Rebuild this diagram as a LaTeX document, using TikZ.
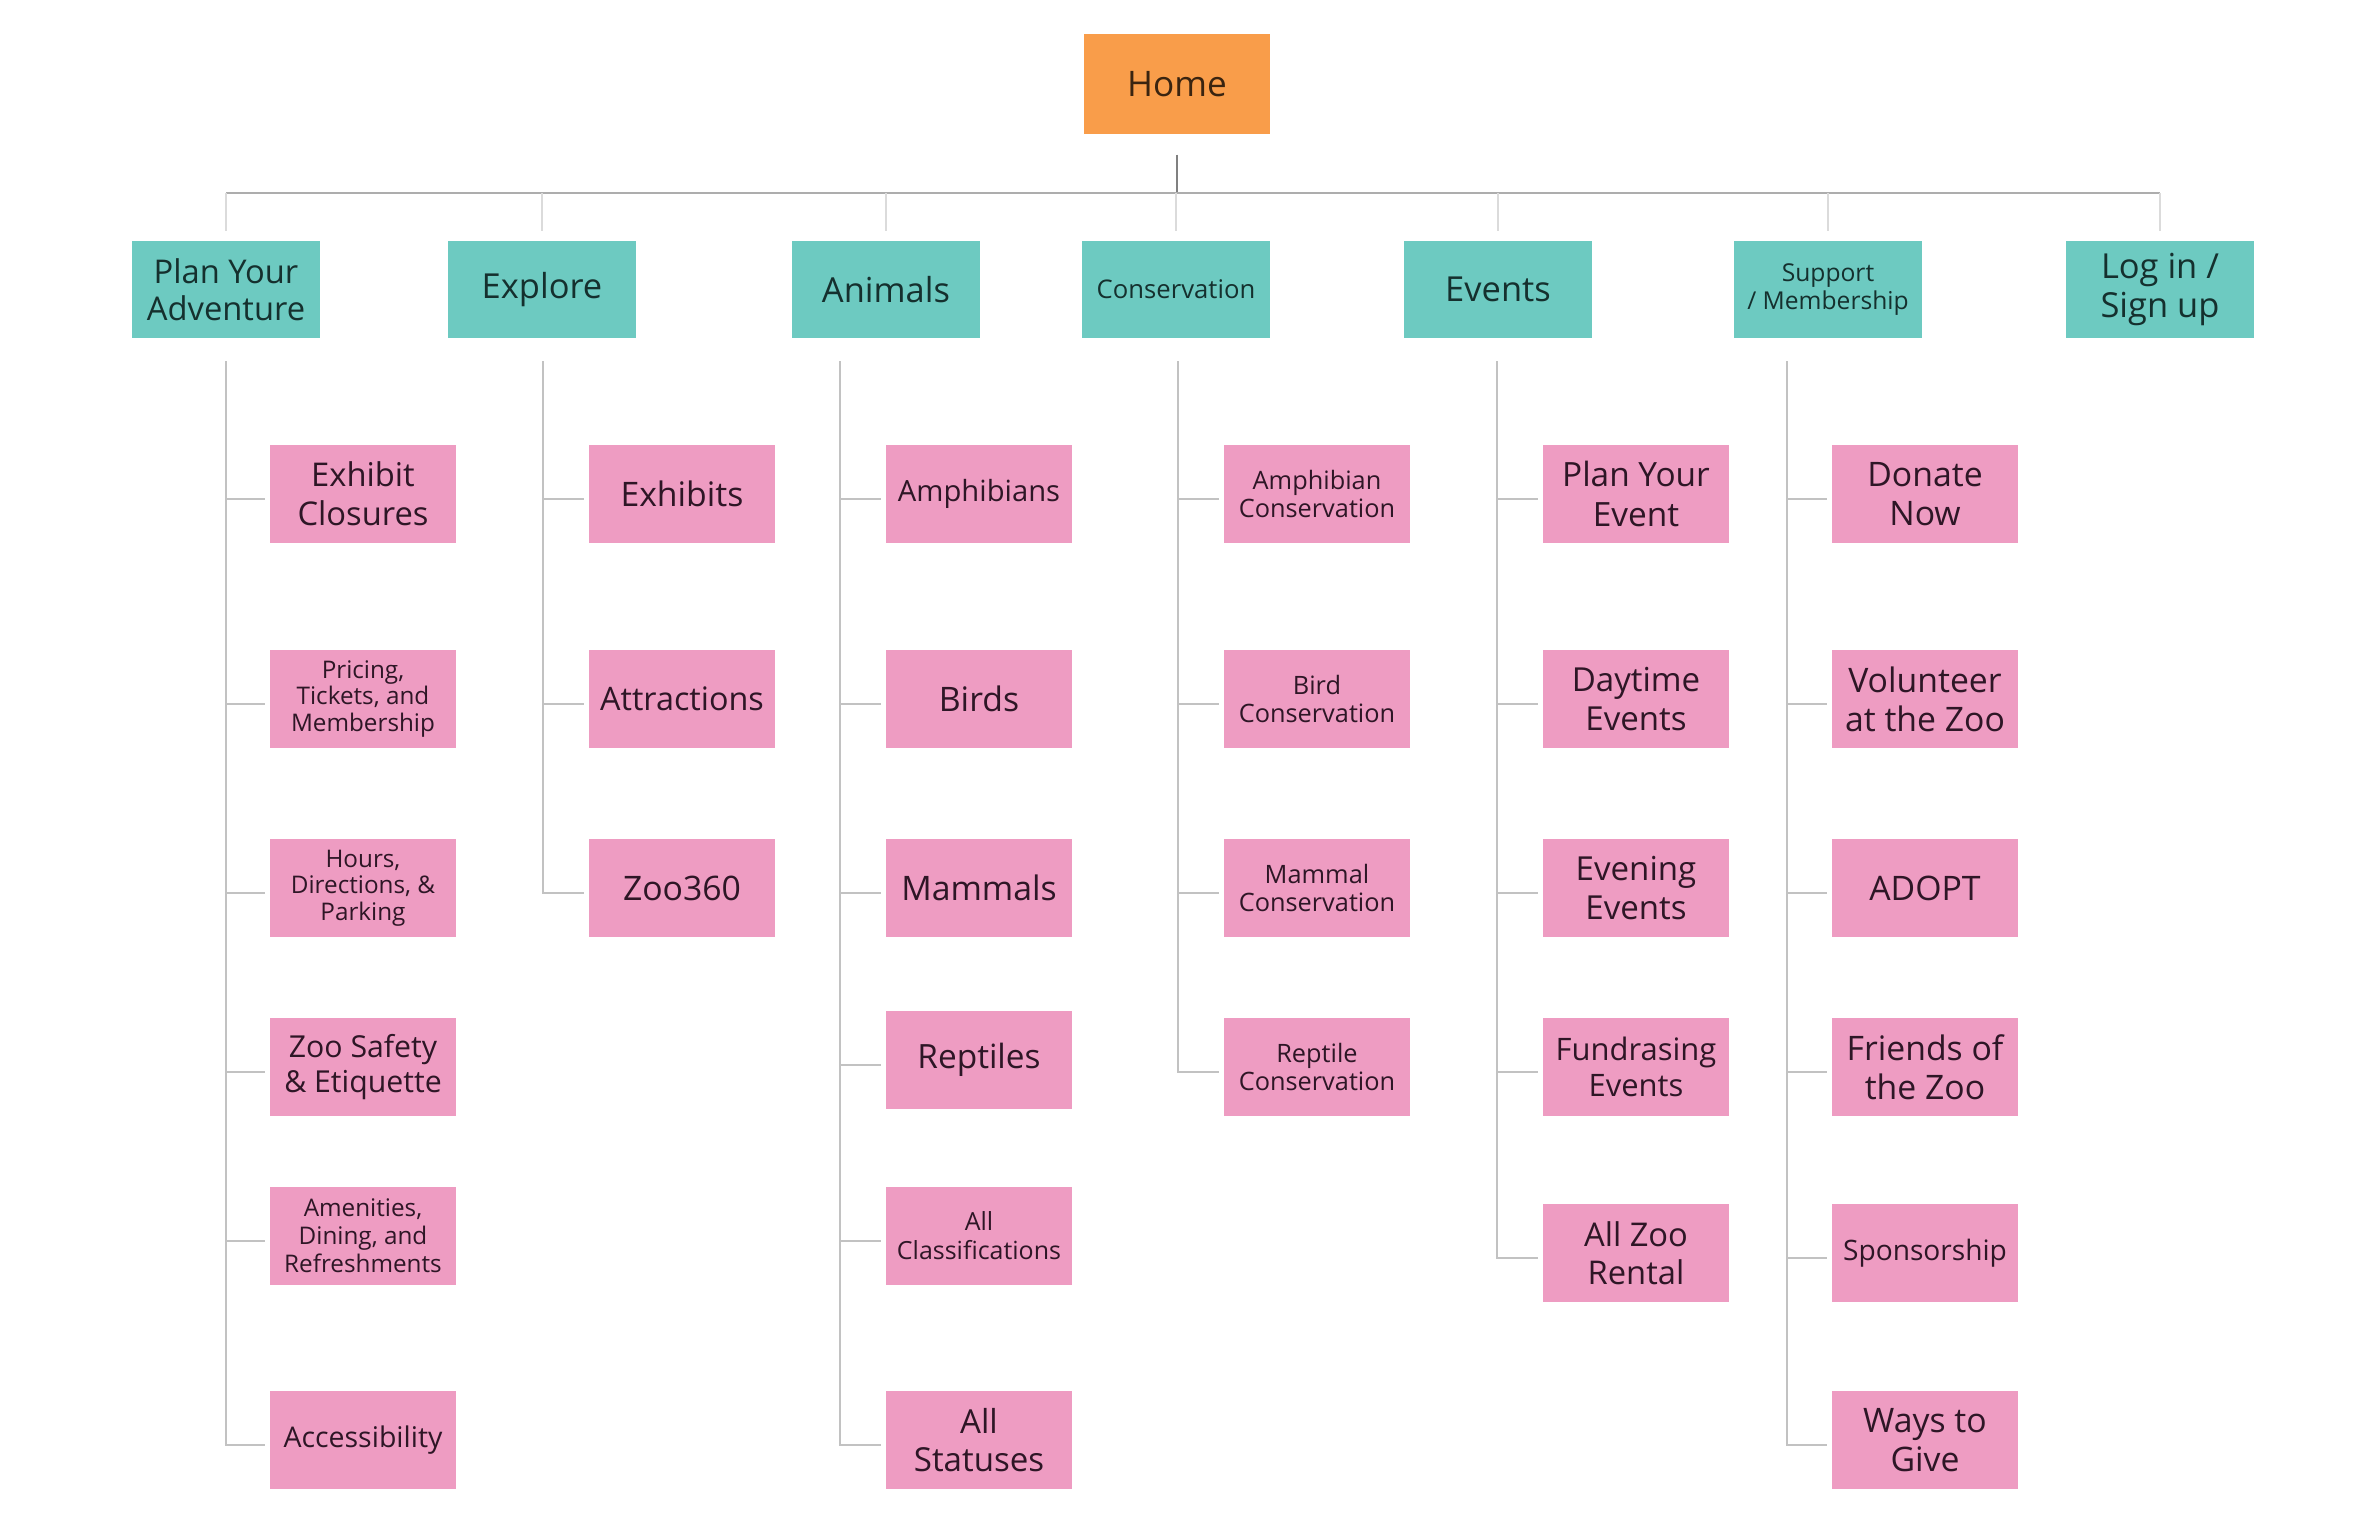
\documentclass[tikz,border=0pt]{standalone}
\usepackage{fontspec}
\setmainfont{Open Sans}
\definecolor{homeorange}{HTML}{F99D4A}
\definecolor{teal1}{HTML}{6DCAC1}
\definecolor{pink1}{HTML}{EE9CC2}
\definecolor{hometext}{HTML}{3A2410}
\definecolor{tealtext}{HTML}{15302E}
\definecolor{pinktext}{HTML}{2E1626}
\newcommand\fsz[2]{\fontsize{#1pt}{#2pt}\selectfont}
\begin{document}
\begin{tikzpicture}[x=0.01cm,y=-0.01cm,
  box/.style={rectangle, inner sep=0pt, align=center},
  homebox/.style={box, fill=homeorange, text=hometext, minimum width=1.86cm, minimum height=1.0cm},
  topbox/.style={box, fill=teal1, text=tealtext, minimum width=1.87cm, minimum height=0.97cm},
  leaf/.style={box, fill=pink1, text=pinktext, minimum width=1.85cm, minimum height=0.97cm},
  homeline/.style={draw=black!50, line width=0.6pt},
  barline/.style={draw=black!32, line width=0.6pt},
  dropline/.style={draw=black!14, line width=0.6pt},
  childline/.style={draw=black!24, line width=0.6pt},
]
\useasboundingbox[fill=white] (0,0) rectangle (2359,1524);

% ---- Home
\node[homebox, font=\fsz{10}{12}] (home) at (1177,84) {Home};

% ---- Top level
\node[topbox, font=\fsz{9.3}{10.5}] (pya) at (226,289.5) {Plan Your\\Adventure};
\node[topbox, font=\fsz{9.8}{11}] (exp) at (542,289.5) {Explore};
\node[topbox, font=\fsz{9.8}{11}] (ani) at (886,289.5) {Animals};
\node[topbox, font=\fsz{7.3}{8.5}] (con) at (1176,289.5) {Conservation};
\node[topbox, font=\fsz{9.8}{11}] (evt) at (1498,289.5) {Events};
\node[topbox, font=\fsz{7.0}{7.8}] (sup) at (1828,289.5) {Support\\/ Membership};
\node[topbox, font=\fsz{9.8}{10.9}] (log) at (2160,289.5) {Log in /\\Sign up};

% ---- Plan Your Adventure children
\node[leaf, font=\fsz{9.3}{11.1}] (p1) at (363,494) {Exhibit\\Closures};
\node[leaf, font=\fsz{6.9}{7.6}] (p2) at (363,699) {Pricing,\\Tickets, and\\Membership};
\node[leaf, font=\fsz{6.9}{7.6}] (p3) at (363,888) {Hours,\\Directions, \&\\Parking};
\node[leaf, font=\fsz{8.6}{10}] (p4) at (363,1067) {Zoo Safety\\\& Etiquette};
\node[leaf, font=\fsz{6.9}{8.0}] (p5) at (363,1236) {Amenities,\\Dining, and\\Refreshments};
\node[leaf, font=\fsz{8.1}{9.5}] (p6) at (363,1440) {Accessibility};

% ---- Explore children
\node[leaf, font=\fsz{9.6}{11}] (e1) at (682,494) {Exhibits};
\node[leaf, font=\fsz{9.2}{11}] (e2) at (682,699) {Attractions};
\node[leaf, font=\fsz{9.6}{11}] (e3) at (682,888) {Zoo360};

% ---- Animals children
\node[leaf, font=\fsz{8.3}{10}] (a1) at (979,494) {Amphibians};
\node[leaf, font=\fsz{9.6}{11}] (a2) at (979,699) {Birds};
\node[leaf, font=\fsz{9.6}{11}] (a3) at (979,888) {Mammals};
\node[leaf, font=\fsz{9.5}{11}] (a4) at (979,1060) {Reptiles};
\node[leaf, font=\fsz{7.1}{8.2}] (a5) at (979,1236) {All\\Classifications};
\node[leaf, font=\fsz{9.4}{10.9}] (a6) at (979,1440) {All\\Statuses};

% ---- Conservation children
\node[leaf, font=\fsz{7.2}{8.2}] (c1) at (1317,494) {Amphibian\\Conservation};
\node[leaf, font=\fsz{7.2}{8.2}] (c2) at (1317,699) {Bird\\Conservation};
\node[leaf, font=\fsz{7.2}{8.2}] (c3) at (1317,888) {Mammal\\Conservation};
\node[leaf, font=\fsz{7.2}{8.2}] (c4) at (1317,1067) {Reptile\\Conservation};

% ---- Events children
\node[leaf, font=\fsz{9.5}{11.2}] (v1) at (1636,494) {Plan Your\\Event};
\node[leaf, font=\fsz{9.4}{11}] (v2) at (1636,699) {Daytime\\Events};
\node[leaf, font=\fsz{9.4}{11}] (v3) at (1636,888) {Evening\\Events};
\node[leaf, font=\fsz{8.8}{10.2}] (v4) at (1636,1067) {Fundrasing\\Events};
\node[leaf, font=\fsz{9.3}{10.9}] (v5) at (1636,1253) {All Zoo\\Rental};

% ---- Support children
\node[leaf, font=\fsz{9.6}{11}] (s1) at (1925,494) {Donate\\Now};
\node[leaf, font=\fsz{9.6}{11}] (s2) at (1925,699) {Volunteer\\at the Zoo};
\node[leaf, font=\fsz{9.6}{11}] (s3) at (1925,888) {ADOPT};
\node[leaf, font=\fsz{9.6}{11}] (s4) at (1925,1067) {Friends of\\the Zoo};
\node[leaf, font=\fsz{8.0}{9.5}] (s5) at (1925,1253) {Sponsorship};
\node[leaf, font=\fsz{9.6}{11}] (s6) at (1925,1440) {Ways to\\Give};

% ---- Connectors: home to bar
\coordinate (hub) at (1177,193);
\draw[homeline] ([shift={(0,20)}]home.south) -- (hub);
\draw[barline] (pya.north |- hub) -- (log.north |- hub);
\foreach \n in {pya,exp,ani,con,evt,sup,log}
  \draw[dropline] (\n.north |- hub) -- ([shift={(0,-9)}]\n.north);

% ---- vertical stems
\coordinate (pyav) at (226,361);
\coordinate (expv) at (543,361);
\coordinate (aniv) at (840,361);
\coordinate (conv) at (1178,361);
\coordinate (evtv) at (1497,361);
\coordinate (supv) at (1787,361);

\foreach \c in {p1,p2,p3,p4,p5,p6}
  \draw[childline] (pyav) |- ([shift={(-5,5)}]\c.west);
\foreach \c in {e1,e2,e3}
  \draw[childline] (expv) |- ([shift={(-5,5)}]\c.west);
\foreach \c in {a1,a2,a3,a4,a5,a6}
  \draw[childline] (aniv) |- ([shift={(-5,5)}]\c.west);
\foreach \c in {c1,c2,c3,c4}
  \draw[childline] (conv) |- ([shift={(-5,5)}]\c.west);
\foreach \c in {v1,v2,v3,v4,v5}
  \draw[childline] (evtv) |- ([shift={(-5,5)}]\c.west);
\foreach \c in {s1,s2,s3,s4,s5,s6}
  \draw[childline] (supv) |- ([shift={(-5,5)}]\c.west);
\end{tikzpicture}
\end{document}
